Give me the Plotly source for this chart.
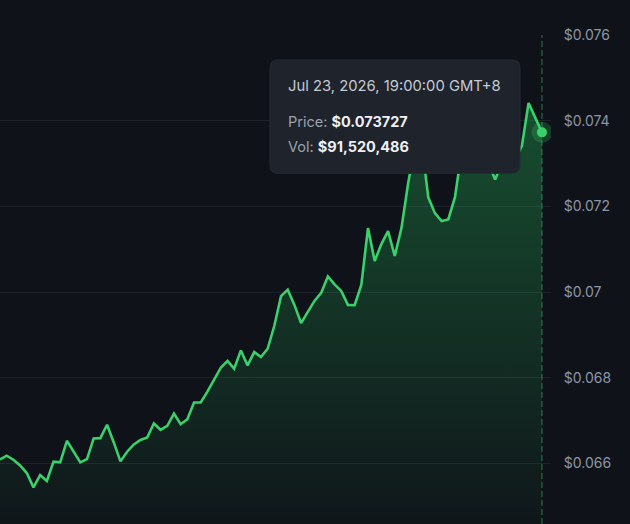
import pandas as pd
import plotly.graph_objects as go

# ---- data ----
prices = [
    0.066093, 0.066179, 0.066086, 0.065953, 0.065774, 0.065441, 0.065728, 0.065588,
    0.066040, 0.066023, 0.066528, 0.066279, 0.066023, 0.066100, 0.066582, 0.066589,
    0.066901, 0.066489, 0.066047, 0.066272, 0.066442, 0.066547, 0.066605, 0.066931,
    0.066784, 0.066877, 0.067164, 0.066915, 0.067031, 0.067420, 0.067420, 0.067676,
    0.067962, 0.068234, 0.068390, 0.068211, 0.068637, 0.068288, 0.068599, 0.068483,
    0.068676, 0.069212, 0.069903, 0.070056, 0.069700, 0.069274, 0.069537, 0.069793,
    0.069980, 0.070364, 0.070177, 0.070026, 0.069700, 0.069693, 0.070166, 0.071492,
    0.070724, 0.071120, 0.071422, 0.070841, 0.071492, 0.072539, 0.073400, 0.073517,
    0.072214, 0.071841, 0.071655, 0.071695, 0.072214, 0.073284, 0.073517, 0.073238,
    0.073400, 0.073028, 0.072626, 0.073005, 0.073284, 0.073098, 0.073412, 0.074413,
    0.074052, 0.073727,
]
times = pd.date_range(end="2026-07-23 19:00:00", periods=len(prices), freq="1h")

y_ticks = [0.066, 0.068, 0.070, 0.072, 0.074, 0.076]
y_tick_labels = ["$0.066", "$0.068", "$0.07", "$0.072", "$0.074", "$0.076"]
y_range = [0.064585, 0.076]

tip_date = "Jul 23, 2026, 19:00:00 GMT+8"
tip_price = "$0.073727"
tip_vol = "$91,520,486"

# ---- style ----
BG = "#0f1319"
GREEN = "#3ad16b"
FONT = "Inter"

W, H = 630, 524
ML, MR, MT, MB = 0, 79, 34.5, 0
PW, PH = W - ML - MR, H - MT - MB

fig = go.Figure()

fig.add_trace(go.Scatter(
    x=times, y=prices, mode="lines",
    line=dict(color=GREEN, width=2.6),
    fill="tozeroy",
    fillgradient=dict(
        type="vertical",
        start=y_range[0], stop=0.0745,
        colorscale=[[0, "rgba(40,200,95,0.02)"], [1, "rgba(40,200,95,0.33)"]],
    ),
    hoverinfo="skip",
))

# hover marker on the last point
fig.add_trace(go.Scatter(
    x=[times[-1]], y=[prices[-1]], mode="markers",
    marker=dict(size=21, color="rgba(58,209,107,0.22)", line=dict(width=0)),
    hoverinfo="skip",
))
fig.add_trace(go.Scatter(
    x=[times[-1]], y=[prices[-1]], mode="markers",
    marker=dict(size=10, color=GREEN, line=dict(width=0)),
    hoverinfo="skip",
))

# dashed crosshair
fig.add_shape(type="line", xref="x", yref="paper",
              x0=times[-1], x1=times[-1], y0=0, y1=1,
              line=dict(color="rgba(58,190,110,0.6)", width=1, dash="6px,3px"),
              layer="above")

# tooltip box (pixel -> paper)
def X(px):
    return (px - ML) / PW

def Y(py):
    return (H - MB - py) / PH

x0, x1, ty0, ty1, r = 270, 520, 59.5, 173, 8
path = (f"M {X(x0+r)},{Y(ty0)} L {X(x1-r)},{Y(ty0)} Q {X(x1)},{Y(ty0)} {X(x1)},{Y(ty0+r)} "
        f"L {X(x1)},{Y(ty1-r)} Q {X(x1)},{Y(ty1)} {X(x1-r)},{Y(ty1)} "
        f"L {X(x0+r)},{Y(ty1)} Q {X(x0)},{Y(ty1)} {X(x0)},{Y(ty1-r)} "
        f"L {X(x0)},{Y(ty0+r)} Q {X(x0)},{Y(ty0)} {X(x0+r)},{Y(ty0)} Z")
fig.add_shape(type="path", xref="paper", yref="paper", path=path,
              fillcolor="#1e232c", line=dict(color="#262b35", width=1), layer="above")

fig.add_annotation(xref="paper", yref="paper", x=X(286), y=Y(86), xanchor="left", yanchor="middle",
                   text=tip_date, showarrow=False,
                   font=dict(family=FONT, size=14.8, color="#c5cad3"))
fig.add_annotation(xref="paper", yref="paper", x=X(286), y=Y(121.5), xanchor="left", yanchor="middle",
                   text=f"<span style='color:#9ba2ad'>Price:</span> <b>{tip_price}</b>", showarrow=False,
                   font=dict(family=FONT, size=14.5, color="#eef0f3"))
fig.add_annotation(xref="paper", yref="paper", x=X(286), y=Y(146.5), xanchor="left", yanchor="middle",
                   text=f"<span style='color:#9ba2ad'>Vol:</span> <b>{tip_vol}</b>", showarrow=False,
                   font=dict(family=FONT, size=14.5, color="#eef0f3"))

step = times[1] - times[0]
fig.update_layout(
    width=W, height=H,
    margin=dict(l=ML, r=MR, t=MT, b=MB),
    paper_bgcolor=BG, plot_bgcolor=BG,
    showlegend=False,
    hovermode=False,
    xaxis=dict(range=[times[0], times[-1] + step * 1.35], visible=False, showgrid=False),
    yaxis=dict(
        side="right", range=y_range,
        tickvals=y_ticks, ticktext=y_tick_labels,
        showgrid=True, gridcolor="#1d222a", gridwidth=1,
        zeroline=False, showline=False,
        ticks="outside", ticklen=9, tickcolor="rgba(0,0,0,0)",
        tickfont=dict(family=FONT, size=14, color="#8c95a6"),
    ),
)

fig.write_html("out.html")
